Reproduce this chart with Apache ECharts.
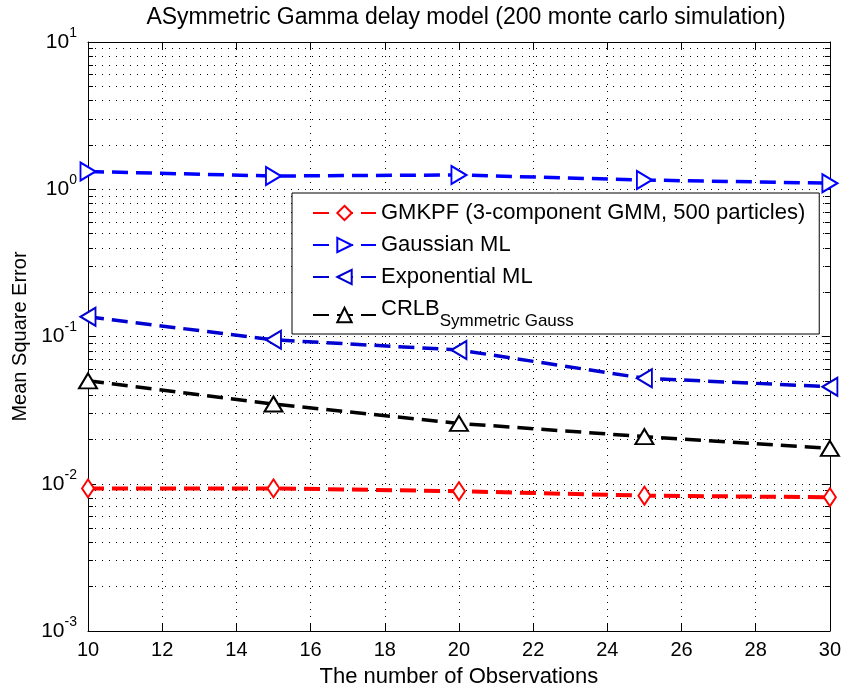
<!DOCTYPE html>
<html><head><meta charset="utf-8">
<script src="https://cdn.jsdelivr.net/npm/echarts@6/dist/echarts.min.js"></script>
<style>html,body{margin:0;padding:0;background:#fff}#c{width:844px;height:694px}</style>
</head><body><div id="c"></div><script>
// ---- data ----
const observations = [10, 15, 20, 25, 30];
const gmkpf = [0.0093, 0.0093, 0.0089, 0.0083, 0.0081];
const gaussianML = [1.32, 1.23, 1.25, 1.155, 1.10];
const exponentialML = [0.136, 0.095, 0.081, 0.052, 0.0456];
const crlb = [0.05, 0.0348, 0.0257, 0.0209, 0.0174];
const seriesNames = ['GMKPF (3-component GMM, 500 particles)', 'Gaussian ML', 'Exponential ML', 'CRLB'];
const xRange = [10, 30];
const xTickStep = 2;
const yRange = [0.001, 10];

const FONT = '"Liberation Sans", Arial, Helvetica, sans-serif';
const pairs = arr => observations.map((x, i) => [x, arr[i]]);
const dotted = { type: [1, 6], color: '#000', width: 1 };

const chart = echarts.init(document.getElementById('c'), null, { renderer: 'canvas' });
chart.setOption({
  animation: false,
  backgroundColor: '#fff',
  title: {
    text: 'ASymmetric Gamma delay model (200 monte carlo simulation)',
    left: 466, top: 6, padding: 0, textAlign: 'center',
    textStyle: { fontFamily: FONT, fontSize: 23, fontWeight: 'normal', color: '#000' }
  },
  grid: { left: 88, right: 11, top: 42, bottom: 63 },
  legend: {
    orient: 'vertical', left: 292, top: 193,
    padding: [9, 14, 2, 20],
    itemWidth: 63, itemHeight: 18, itemGap: 10,
    backgroundColor: '#fff', borderColor: '#000', borderWidth: 1, borderRadius: 0,
    selectedMode: false,
    data: seriesNames,
    formatter: n => n === 'CRLB' ? '{m|CRLB}{s|Symmetric Gauss}' : n,
    textStyle: {
      fontFamily: FONT, fontSize: 22, lineHeight: 22, color: '#000',
      rich: {
        m: { fontFamily: FONT, fontSize: 22, lineHeight: 22, padding: [0, 0, 12, 0], color: '#000' },
        s: { fontFamily: FONT, fontSize: 17, lineHeight: 17, padding: [12, 0, 0, 0], color: '#000' }
      }
    }
  },
  xAxis: [
    {
      type: 'value', min: xRange[0], max: xRange[1], interval: xTickStep, position: 'bottom',
      axisLine: { show: true, lineStyle: { color: '#000', width: 1 } },
      axisTick: { show: true, inside: true, length: 8, lineStyle: { color: '#000' } },
      axisLabel: { color: '#000', fontFamily: FONT, fontSize: 20, margin: 9 },
      splitLine: { show: true, lineStyle: dotted },
      name: 'The number of Observations', nameLocation: 'middle', nameGap: 35,
      nameTextStyle: { fontFamily: FONT, fontSize: 22, color: '#000' }
    },
    {
      type: 'value', min: xRange[0], max: xRange[1], interval: xTickStep, position: 'top',
      axisLine: { show: true, lineStyle: { color: '#000', width: 1 } },
      axisTick: { show: true, inside: true, length: 8, lineStyle: { color: '#000' } },
      axisLabel: { show: false }, splitLine: { show: false }
    }
  ],
  yAxis: [
    {
      type: 'log', logBase: 10, min: yRange[0], max: yRange[1], position: 'left',
      axisLine: { show: true, lineStyle: { color: '#000', width: 1 } },
      axisTick: { show: true, inside: true, length: 8, lineStyle: { color: '#000' } },
      minorTick: { show: true, splitNumber: 9, length: 5, lineStyle: { color: '#000' } },
      splitLine: { show: true, lineStyle: dotted },
      minorSplitLine: { show: true, lineStyle: dotted },
      axisLabel: {
        margin: 11, color: '#000',
        formatter: v => '{b|10}{e|' + Math.round(Math.log10(v)) + '}',
        rich: {
          b: { fontFamily: FONT, fontSize: 21, color: '#000' },
          e: { fontFamily: FONT, fontSize: 14, color: '#000', padding: [0, 0, 18, 0] }
        }
      },
      name: 'Mean Square Error', nameLocation: 'middle', nameGap: 57, nameRotate: 90,
      nameTextStyle: { fontFamily: FONT, fontSize: 20, color: '#000' }
    },
    {
      type: 'log', logBase: 10, min: yRange[0], max: yRange[1], position: 'right',
      axisLine: { show: true, lineStyle: { color: '#000', width: 1 } },
      axisTick: { show: true, inside: true, length: 8, lineStyle: { color: '#000' } },
      minorTick: { show: true, splitNumber: 9, length: 5, lineStyle: { color: '#000' } },
      axisLabel: { show: false }, splitLine: { show: false }
    }
  ],
  series: [
    {
      name: seriesNames[0], type: 'line', data: pairs(gmkpf),
      symbol: 'emptyDiamond', symbolSize: [12, 18],
      lineStyle: { color: '#ff0000', width: 4, type: [16, 8] },
      itemStyle: { color: '#ff0000', borderWidth: 2.5 }, z: 5
    },
    {
      name: seriesNames[1], type: 'line', data: pairs(gaussianML),
      symbol: 'emptyTriangle', symbolSize: [18, 15], symbolRotate: -90,
      lineStyle: { color: '#0000ff', width: 3.5, type: [16, 8] },
      itemStyle: { color: '#0000ff', borderWidth: 2.5 }, z: 5
    },
    {
      name: seriesNames[2], type: 'line', data: pairs(exponentialML),
      symbol: 'emptyTriangle', symbolSize: [18, 15], symbolRotate: 90,
      lineStyle: { color: '#0000d0', width: 3.5, type: [16, 8] },
      itemStyle: { color: '#0000d0', borderWidth: 2.5 }, z: 5
    },
    {
      name: seriesNames[3], type: 'line', data: pairs(crlb),
      symbol: 'emptyTriangle', symbolSize: [18, 15],
      lineStyle: { color: '#000', width: 3.5, type: [16, 8] },
      itemStyle: { color: '#000', borderWidth: 2.5 }, z: 5
    }
  ]
});
</script></body></html>
